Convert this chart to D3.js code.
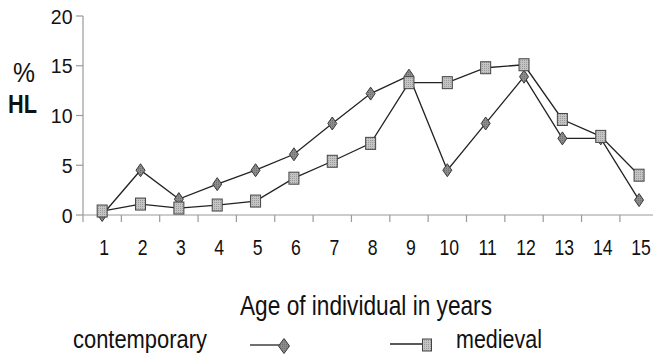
<!DOCTYPE html>
<html>
<head>
<meta charset="utf-8">
<script src="https://cdn.jsdelivr.net/npm/d3@7/dist/d3.min.js"></script>
<style>
  html, body { margin: 0; padding: 0; background: #fff; }
  svg { display: block; font-family: "Liberation Sans", Arial, sans-serif; }
</style>
</head>
<body>
<svg id="chart" width="653" height="359"></svg>
<script>
const categories = ["1","2","3","4","5","6","7","8","9","10","11","12","13","14","15"];
const contemporary = [0, 4.5, 1.6, 3.1, 4.5, 6.1, 9.2, 12.2, 14.0, 4.5, 9.2, 13.9, 7.7, 7.7, 1.5];
const medieval = [0.4, 1.1, 0.7, 1.0, 1.4, 3.7, 5.4, 7.2, 13.3, 13.3, 14.8, 15.1, 9.6, 7.9, 4.0];
const yTicks = [0, 5, 10, 15, 20];
const seriesNames = ["contemporary", "medieval"];

const svg = d3.select("#chart");

const defs = svg.append("defs");
const pat = defs.append("pattern").attr("id", "sqfill").attr("patternUnits", "userSpaceOnUse")
  .attr("width", 2).attr("height", 2);
pat.append("rect").attr("width", 2).attr("height", 2).attr("fill", "#c4c4c4");
pat.append("rect").attr("width", 1).attr("height", 1).attr("fill", "#9a9a9a");
const pat2 = defs.append("pattern").attr("id", "dmfill").attr("patternUnits", "userSpaceOnUse")
  .attr("width", 2).attr("height", 2);
pat2.append("rect").attr("width", 2).attr("height", 2).attr("fill", "#8c8c8c");
pat2.append("rect").attr("width", 1).attr("height", 1).attr("fill", "#6e6e6e");

const x = d3.scaleBand().domain(categories).range([83, 83 + 15 * 38.35]).padding(0);
const y = d3.scaleLinear().domain([0, 20]).range([215, 16]);
const cx = d => x(d) + x.bandwidth() / 2;

// axes
const axisColor = "#9a9a9a";
svg.append("line").attr("x1", 83).attr("x2", 83).attr("y1", y(20)).attr("y2", y(0))
  .attr("stroke", axisColor).attr("stroke-width", 1.2);
svg.append("line").attr("x1", 83).attr("x2", x.range()[1]).attr("y1", y(0)).attr("y2", y(0))
  .attr("stroke", axisColor).attr("stroke-width", 1.2);

// y ticks
svg.selectAll(".ytick").data(yTicks).enter().append("line")
  .attr("x1", 76).attr("x2", 83).attr("y1", d => y(d)).attr("y2", d => y(d))
  .attr("stroke", axisColor).attr("stroke-width", 1.2);
svg.selectAll(".ylab").data(yTicks).enter().append("g")
  .attr("transform", d => `translate(72.5,${y(d) + 7.5}) scale(0.93,1)`)
  .append("text").attr("text-anchor", "end").attr("font-size", 21).attr("fill", "#111")
  .text(d => d);

// x ticks at band boundaries
const bounds = categories.map(c => x(c)).concat([x.range()[1]]);
svg.selectAll(".xtick").data(bounds).enter().append("line")
  .attr("x1", d => d).attr("x2", d => d).attr("y1", y(0)).attr("y2", y(0) + 7)
  .attr("stroke", axisColor).attr("stroke-width", 1.2);
svg.selectAll(".xlab").data(categories).enter().append("g")
  .attr("transform", d => `translate(${cx(d) + 2},255) scale(0.8,1)`)
  .append("text").attr("text-anchor", "middle").attr("font-size", 22).attr("fill", "#111")
  .text(d => d);

// y title
svg.append("text").attr("x", 24).attr("y", 82).attr("text-anchor", "middle")
  .attr("font-size", 27).attr("fill", "#111").attr("textLength", 22)
  .attr("lengthAdjust", "spacingAndGlyphs").text("%");
svg.append("text").attr("x", 8).attr("y", 113)
  .attr("font-size", 26).attr("font-weight", "bold").attr("fill", "#111").attr("textLength", 29)
  .attr("lengthAdjust", "spacingAndGlyphs").text("HL");

// x title
svg.append("text").attr("x", 240).attr("y", 315)
  .attr("font-size", 28).attr("fill", "#111").attr("textLength", 252)
  .attr("lengthAdjust", "spacingAndGlyphs").text("Age of individual in years");

// lines
const line = d3.line().x((d, i) => cx(categories[i])).y(d => y(d));
svg.append("path").attr("d", line(contemporary)).attr("fill", "none")
  .attr("stroke", "#222").attr("stroke-width", 1.3);
svg.append("path").attr("d", line(medieval)).attr("fill", "none")
  .attr("stroke", "#222").attr("stroke-width", 1.3);

function diamond(g, px, py, w, h) {
  g.append("path")
    .attr("d", `M${px},${py - h / 2}L${px + w / 2},${py}L${px},${py + h / 2}L${px - w / 2},${py}Z`)
    .attr("fill", "url(#dmfill)").attr("stroke", "#3a3a3a").attr("stroke-width", 1);
}
function square(g, px, py, w, h) {
  g.append("rect").attr("x", px - w / 2).attr("y", py - h / 2).attr("width", w).attr("height", h)
    .attr("fill", "url(#sqfill)").attr("stroke", "#444").attr("stroke-width", 1);
}

const gm = svg.append("g");
contemporary.forEach((v, i) => diamond(gm, cx(categories[i]), y(v), 9, 13));
medieval.forEach((v, i) => square(gm, cx(categories[i]), y(v), 10, 12));

// legend
svg.append("text").attr("x", 73).attr("y", 348)
  .attr("font-size", 26).attr("fill", "#111").attr("textLength", 134)
  .attr("lengthAdjust", "spacingAndGlyphs").text(seriesNames[0]);
svg.append("line").attr("x1", 250).attr("x2", 282).attr("y1", 345).attr("y2", 345)
  .attr("stroke", "#222").attr("stroke-width", 1.3);
diamond(svg, 284, 346, 11, 15);

svg.append("line").attr("x1", 390).attr("x2", 424).attr("y1", 344).attr("y2", 344)
  .attr("stroke", "#222").attr("stroke-width", 1.3);
square(svg, 427, 345, 9, 12);
svg.append("text").attr("x", 456).attr("y", 348)
  .attr("font-size", 26).attr("fill", "#111").attr("textLength", 86)
  .attr("lengthAdjust", "spacingAndGlyphs").text(seriesNames[1]);
</script>
</body>
</html>
